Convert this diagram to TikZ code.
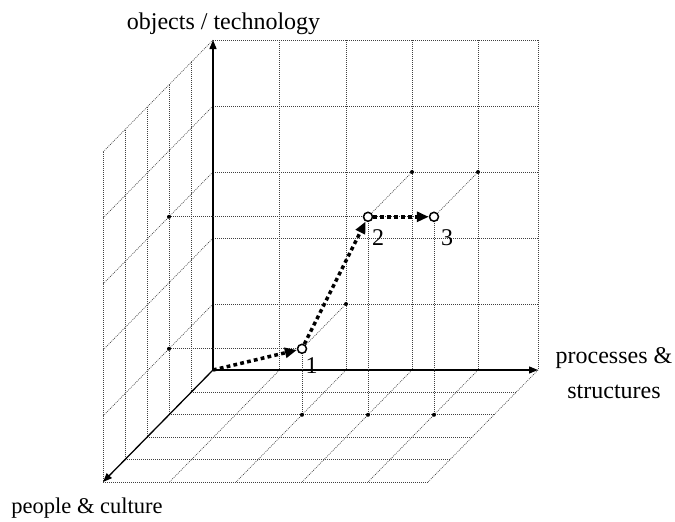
\documentclass[tikz,border=0pt]{standalone}
\usepackage{fontspec}
\setmainfont{Liberation Serif}
\usetikzlibrary{arrows.meta}
\begin{document}
\begin{tikzpicture}[x=1pt,y=-1pt,
  grid/.style={black!75, line width=0.65pt, dash pattern=on 0.9pt off 1.1pt},
  axis/.style={black, line width=1.3pt, -{Triangle[length=9pt,width=7pt]}},
  move/.style={black, line width=3.5pt, dash pattern=on 3.8pt off 3.2pt, -{Triangle[length=12pt,width=10pt]}},
  stage/.style={circle, draw=black, fill=white, line width=1.5pt, inner sep=0pt, minimum size=9pt},
  pdot/.style={circle, fill=black, inner sep=0pt, minimum size=4pt},
  lbl/.style={font=\fontsize{24}{28}\selectfont, inner sep=0pt, anchor=base}]
\useasboundingbox (0,0) rectangle (675,522);
% back wall
\foreach \x in {279.5,346,412,478,538} \draw[grid] (\x,40) -- (\x,370);
\foreach \y in {40,106,172,238,304} \draw[grid] (213,\y) -- (538,\y);
% left wall and floor
\foreach \z in {1,...,5} {
  \draw[grid] (213-22*\z,40+22.4*\z) -- (213-22*\z,370+22.4*\z);
  \draw[grid] (213-22*\z,370+22.4*\z) -- (538-22*\z,370+22.4*\z);
}
\foreach \y in {40,106,172,238,304} \draw[grid] (213,\y) -- ++(-110,112);
\foreach \x in {279.5,346,412,478,538} \draw[grid] (\x,370) -- ++(-110,112);
% axes
\coordinate (O) at (213,370);
\coordinate (ytip) at (213,40);
\coordinate (xtip) at (538,370);
\coordinate (ztip) at (103,482);
\draw[axis] (O) -- (ytip);
\draw[axis] (O) -- (xtip);
\draw[axis] (O) -- (ztip);
% projections
\node[pdot] (p1b) at (346,304) {};
\node[pdot] (p1l) at (169,348.8) {};
\node[pdot] (p1f) at (302,414.8) {};
\node[pdot] (p2b) at (412,172) {};
\node[pdot] (p2l) at (169,216.8) {};
\node[pdot] (p2f) at (368,414.8) {};
\node[pdot] (p3b) at (478,172) {};
\node[pdot] (p3f) at (434,414.8) {};
\coordinate (c1) at (302,348.8);
\coordinate (c2) at (368,216.8);
\coordinate (c3) at (434,216.8);
\draw[grid] (c1) -- (p1b);
\draw[grid] (c1) -- (p1l);
\draw[grid] (c1) -- (p1f);
\draw[grid] (c2) -- (p2b);
\draw[grid] (c2) -- (p2l);
\draw[grid] (c2) -- (p2f);
\draw[grid] (c3) -- (p3b);
\draw[grid] (c3) -- (c2);
\draw[grid] (c3) -- (p3f);
% stages
\node[stage] (p1) at (c1) {};
\node[stage] (p2) at (c2) {};
\node[stage] (p3) at (c3) {};
\draw[move] (O) -- (p1);
\draw[move] (p1) -- (p2);
\draw[move] (p2) -- (p3);
% labels
\node[lbl] (t1) at (311.5,373) {1};
\node[lbl] (t2) at (378,245) {2};
\node[lbl] (t3) at (447,245) {3};
\node[lbl] (ly) at (223.5,29) {objects / technology};
\node[lbl] (lx1) at (614,363) {processes \&};
\node[lbl] (lx2) at (614,398) {structures};
\node[lbl, font=\fontsize{22.5}{27}\selectfont] (lz) at (87,513) {people \& culture};
\end{tikzpicture}
\end{document}
